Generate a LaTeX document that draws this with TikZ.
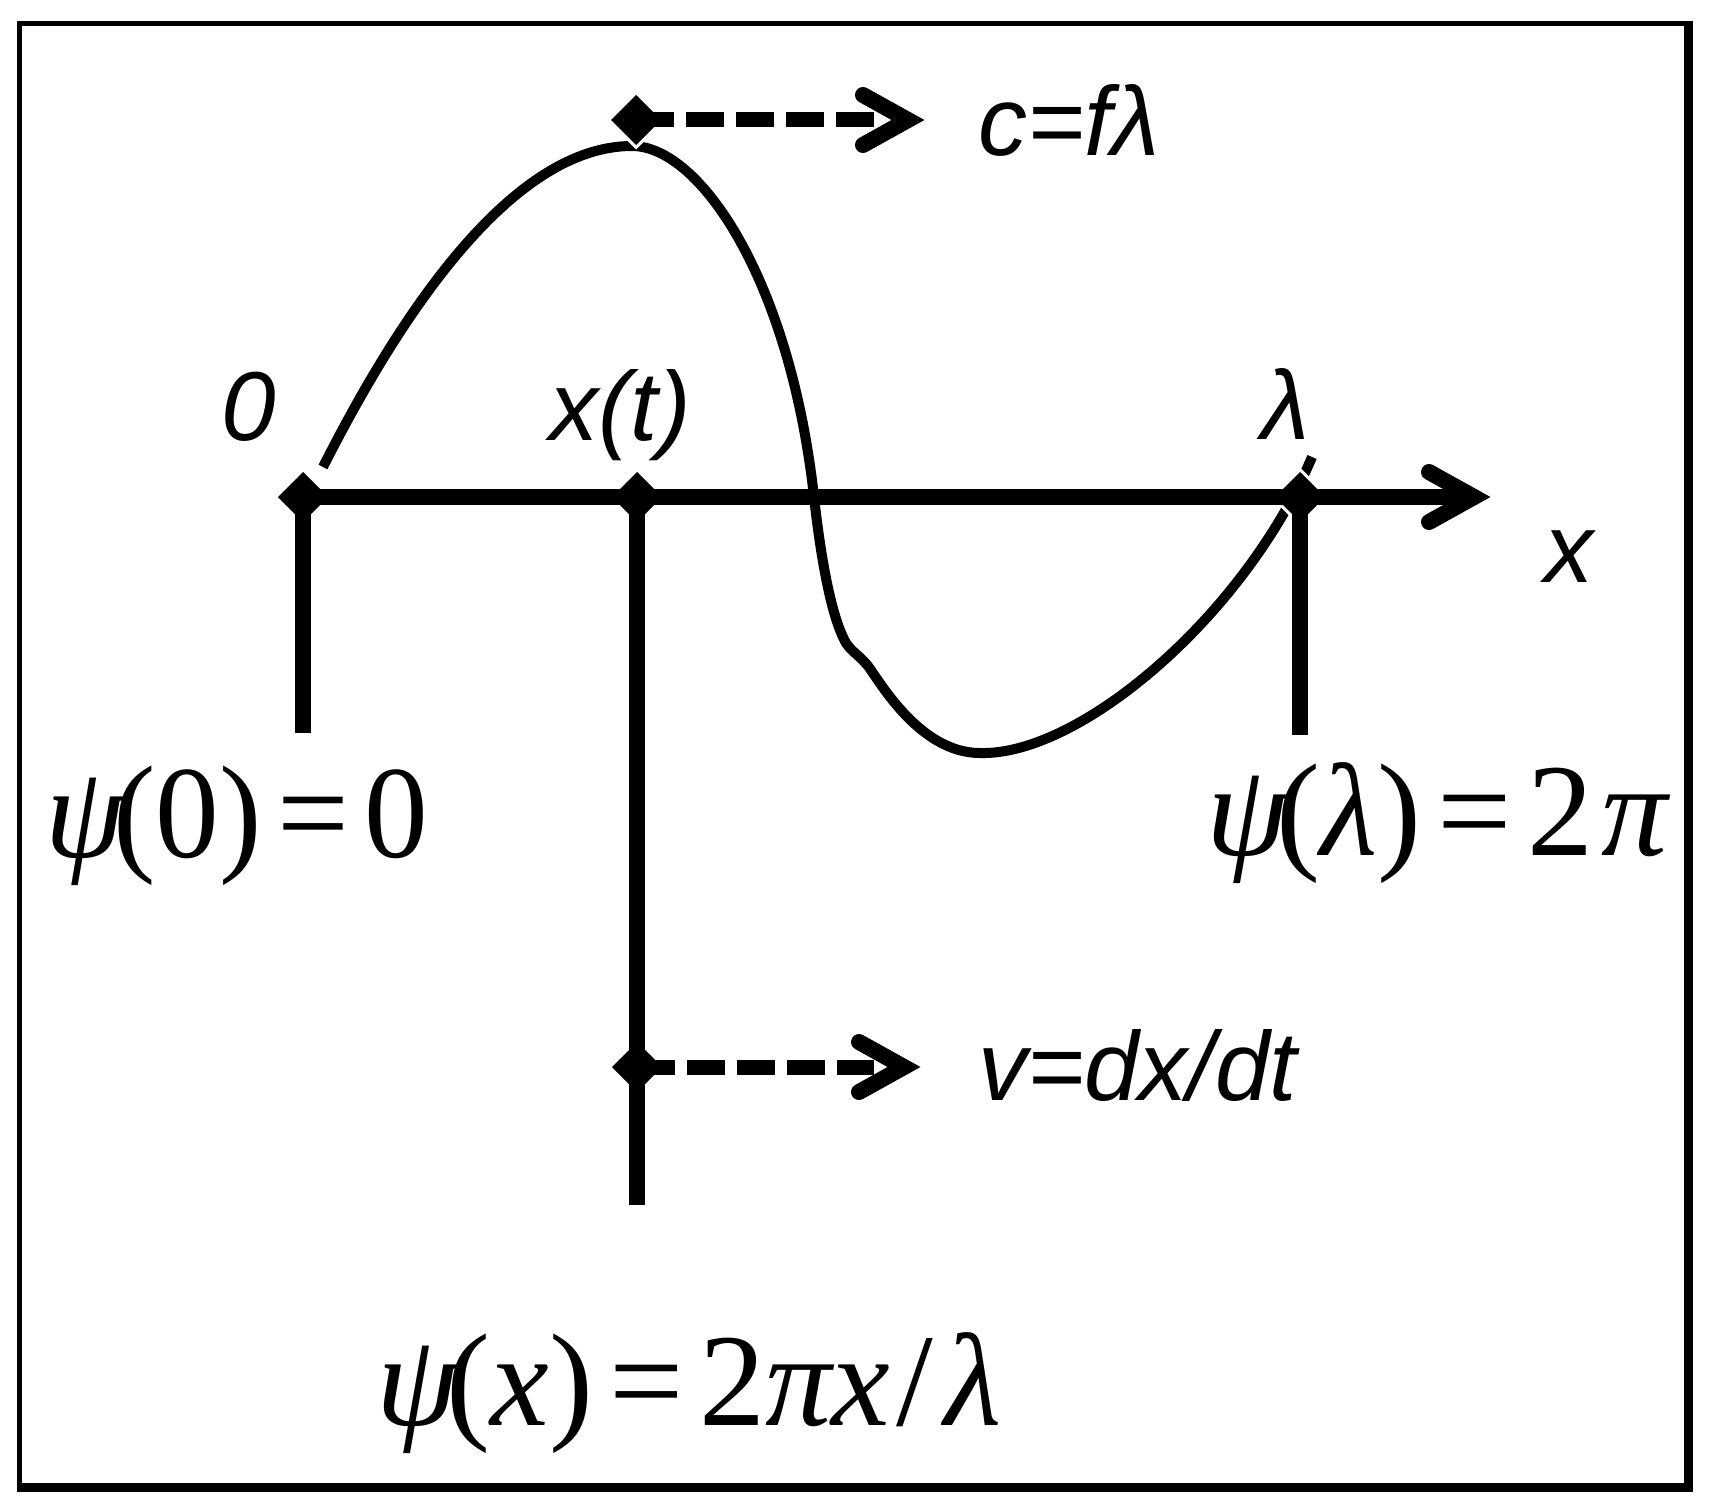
\documentclass[tikz,border=0pt]{standalone}
\usepackage{fontspec}
\setmainfont{Liberation Serif}
\newfontfamily\arialf{Liberation Sans}
\usetikzlibrary{shapes.geometric,calc}
\newcommand{\psiglyph}{\textit{ψ}}
\begin{document}
\begin{tikzpicture}[x=1pt,y=-1pt,
  dmd/.style={diamond, fill=black, draw=white, line width=3pt, inner sep=0pt, minimum width=56pt, minimum height=56pt},
  thickline/.style={line width=16pt},
  chevron/.style={line width=16pt, line cap=round, line join=miter},
  dashline/.style={line width=15pt, dash pattern=on 37.5pt off 12.5pt},
  wave/.style={line width=10pt, line join=round, line cap=butt},
  lab/.style={inner sep=0pt, font=\arialf\itshape\fontsize{98}{110}\selectfont},
  fml/.style={inner sep=0pt, font=\fontsize{132}{150}\selectfont}
]
\useasboundingbox (0,0) rectangle (1710,1509);
% frame
\fill[black] (16.7,21) rectangle (1693,1492);
\fill[white] (21.7,25.7) rectangle (1684,1483);
% wave
\draw[wave] (323,467) .. controls (405,305) and (515,146) .. (632,146)
  .. controls (700,146) and (790,280) .. (814,497)
  .. controls (820,550) and (830,615) .. (846,643)
  .. controls (852,652) and (860,656) .. (868,666)
  .. controls (880,682) and (920,753) .. (980,753)
  .. controls (1080,756) and (1245,615) .. (1312,457);
% markers
\node[dmd] (d0) at (303,497) {};
\node[dmd] (dx) at (637,497) {};
\node[dmd] (dl) at (1300,497) {};
\node[dmd] (dtop) at (636,120) {};
\node[dmd] (dv) at (637,1067) {};
% free ends
\coordinate (b0) at (303,733);
\coordinate (bx) at (637,1205);
\coordinate (bl) at (1300,735);
\coordinate (axtip) at (1474,497);
\coordinate (toptip) at (908,120);
\coordinate (topend) at (874,120);
\coordinate (vtip) at (904,1067);
\coordinate (vend) at (874,1067);
% axis and ticks
\draw[thickline] (d0.center) -- (axtip);
\draw[thickline] (d0.center) -- (b0);
\draw[thickline] (dx.center) -- (bx);
\draw[thickline] (dl.center) -- (bl);
\draw[chevron] ($(axtip)+(-45,-25)$) -- (axtip) -- ($(axtip)+(-45,25)$);
% dashed arrows
\draw[dashline] (dtop.center) -- (topend);
\draw[chevron] ($(toptip)+(-45,-25)$) -- (toptip) -- ($(toptip)+(-45,25)$);
\draw[dashline] (dv.center) -- (vend);
\draw[chevron] ($(vtip)+(-45,-25)$) -- (vtip) -- ($(vtip)+(-45,25)$);
% labels
\node[lab, anchor=base west] (lc) at (978,156) {c=fλ};
\node[lab, anchor=base west] (l0) at (221,440) {0};
\node[lab, anchor=base west] (lxt) at (549,440) {x(t)};
\node[lab, anchor=base west] (llam) at (1261,439) {λ};
\node[lab, anchor=base west] (lxx) at (1544,582) {x};
\node[lab, anchor=base west] (lv) at (978,1100) {v=dx/dt};
% formulas
\node[fml, anchor=base west, xscale=0.965] (f0) at (45,857) {\psiglyph\kern-0.1em(0)\kern0.12em=\kern0.12em0};
\node[fml, anchor=base west] (fl) at (1206,855) {\psiglyph\kern-0.1em(\textit{λ})\kern0.12em=\kern0.12em2\kern0.06em\textit{π}};
\node[fml, anchor=base west] (fx) at (376,1425) {\psiglyph\kern-0.1em(\textit{x})\kern0.12em=\kern0.12em2\textit{πx}\kern0.05em/\kern0.08em\textit{λ}};
\end{tikzpicture}
\end{document}
